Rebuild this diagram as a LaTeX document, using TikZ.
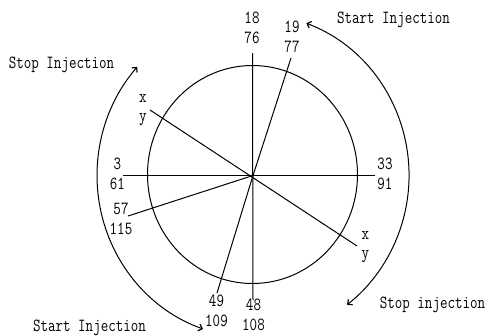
\documentclass[tikz,border=0pt]{standalone}
\usepackage{graphicx}
\usetikzlibrary{arrows.meta}
\newcommand\nar[1]{\scalebox{0.79}[1]{#1}}
\begin{document}
\begin{tikzpicture}[x=1pt,y=-1pt,
  lab/.style={font=\ttfamily\fontsize{18.5}{19.5}\selectfont, inner sep=0pt, align=center},
  txt/.style={font=\ttfamily\fontsize{18.5}{19.5}\selectfont, inner sep=0pt, anchor=base},
  ray/.style={line width=1pt},
  rot/.style={line width=1pt, {Straight Barb[length=3.5pt,width=7pt,line width=1.2pt]}-{Straight Barb[length=3.5pt,width=7pt,line width=1.2pt]}}]
\useasboundingbox (0,0) rectangle (490,335);
\coordinate (O) at (253,175.5);
% circle
\draw[ray] (252.5,174.5) ellipse [x radius=105, y radius=109];
% ray ends
\coordinate (e18) at (252.5,53);
\coordinate (e48) at (253,300);
\coordinate (e3) at (123,175.5);
\coordinate (e33) at (375,175.5);
\coordinate (e19) at (291,58);
\coordinate (e57) at (128,216);
\coordinate (e49) at (217,293);
\coordinate (exa) at (150,110);
\coordinate (exb) at (357,246);
\draw[ray] (e18) -- (e48);
\draw[ray] (e3) -- (e33);
\draw[ray] (O) -- (e19);
\draw[ray] (O) -- (e57);
\draw[ray] (O) -- (e49);
\draw[ray] (exa) -- (exb);
% labels
\node[lab] (l18) at (252,28) {\nar{18}\\\nar{76}};
\node[lab] (l19) at (292,37) {\nar{19}\\\nar{77}};
\node[lab] (l3) at (117.5,174) {\nar{3}\\\nar{61}};
\node[lab] (l33) at (385,174) {\nar{33}\\\nar{91}};
\node[lab] (l57) at (121,219) {\nar{57}\\\nar{115}};
\node[lab] (l49) at (216.5,311) {\nar{49}\\\nar{109}};
\node[lab] (l48) at (253.5,315) {\nar{48}\\\nar{108}};
\node[lab] (lxa) at (143,110) {\nar{x}\\\nar{y}};
\node[lab] (lxb) at (365.5,247) {\nar{x}\\\nar{y}};
% rotation arcs
\draw[rot] (O) ++(108.7:156 and 162) arc[start angle=108.7, end angle=222.1, x radius=156, y radius=162];
\draw[rot] (O) ++(-70:156 and 162) arc[start angle=-70, end angle=52.9, x radius=156, y radius=162];
% texts
\node[txt] (t1) at (61.5,68) {\nar{Stop Injection}};
\node[txt] (t2) at (393.5,23.5) {\nar{Start Injection}};
\node[txt] (t3) at (89.5,331.5) {\nar{Start Injection}};
\node[txt] (t4) at (432.5,308) {\nar{Stop injection}};
\end{tikzpicture}
\end{document}
